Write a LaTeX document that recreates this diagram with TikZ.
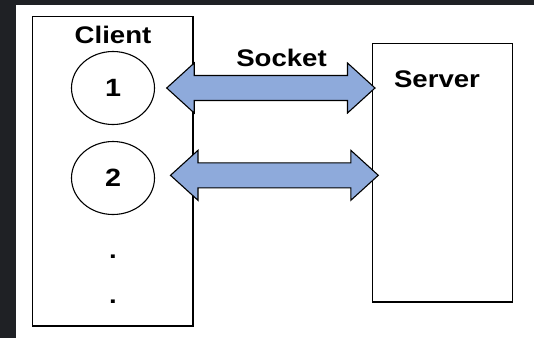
\documentclass[tikz,border=0pt]{standalone}
\usepackage{fontspec}
\setmainfont{Liberation Sans}[FakeStretch=1.15]
\usetikzlibrary{shapes.geometric,calc}

\definecolor{framebg}{RGB}{31,33,37}
\definecolor{sockblue}{RGB}{142,170,219}

\tikzset{
  box/.style={draw=black, line width=1.5pt, fill=white, inner sep=0pt},
  proc/.style={draw=black, line width=1.1pt, ellipse, inner sep=0pt,
    minimum width=83pt, minimum height=73pt, font=\bfseries\fontsize{25}{25}\selectfont},
  label/.style={inner sep=0pt, font=\bfseries\fontsize{24}{24}\selectfont},
  sockarrow/.style={draw=black, line width=1.1pt, fill=sockblue, line join=miter}
}

% double-headed block arrow between two tip points
\newcommand\fatarrow[2]{%
  \draw[sockarrow] (#1) -- ++(27.5,-25) -- ++(0,12.5)
    -- ($(#2)+(-27.5,-12.5)$) -- ++(0,-12.5) -- (#2)
    -- ++(-27.5,25) -- ++(0,-12.5)
    -- ($(#1)+(27.5,12.5)$) -- ++(0,12.5) -- cycle;}

\begin{document}
\begin{tikzpicture}[x=1pt, y=-1pt]
  % frame
  \fill[framebg] (0,0) rectangle (534,338);
  \fill[white] (16,5) rectangle (534,338);
  \useasboundingbox (0,0) rectangle (534,338);

  % client side
  \node[box, minimum width=160.5pt, minimum height=309.5pt] (client) at (112.7,171.2) {};
  \node[label] (clientlbl) at (113,35) {Client};
  \node[proc] (c1) at (113,88) {1};
  \node[proc] (c2) at (113,178) {2};
  \node[label] (dot1) at (113,257) {.};
  \node[label] (dot2) at (113,302) {.};

  % server side
  \node[box, minimum width=140pt, minimum height=258.5pt] (server) at (442.5,172.7) {};
  \node[label] (serverlbl) at (437,79) {Server};

  % socket connections
  \node[label] (socketlbl) at (281.5,57.5) {Socket};
  \coordinate (a1l) at (166.7,88);
  \coordinate (a1r) at (375,88);
  \coordinate (a2l) at (170.5,175.3);
  \coordinate (a2r) at (378.3,175.3);
  \fatarrow{a1l}{a1r}
  \fatarrow{a2l}{a2r}
\end{tikzpicture}
\end{document}
